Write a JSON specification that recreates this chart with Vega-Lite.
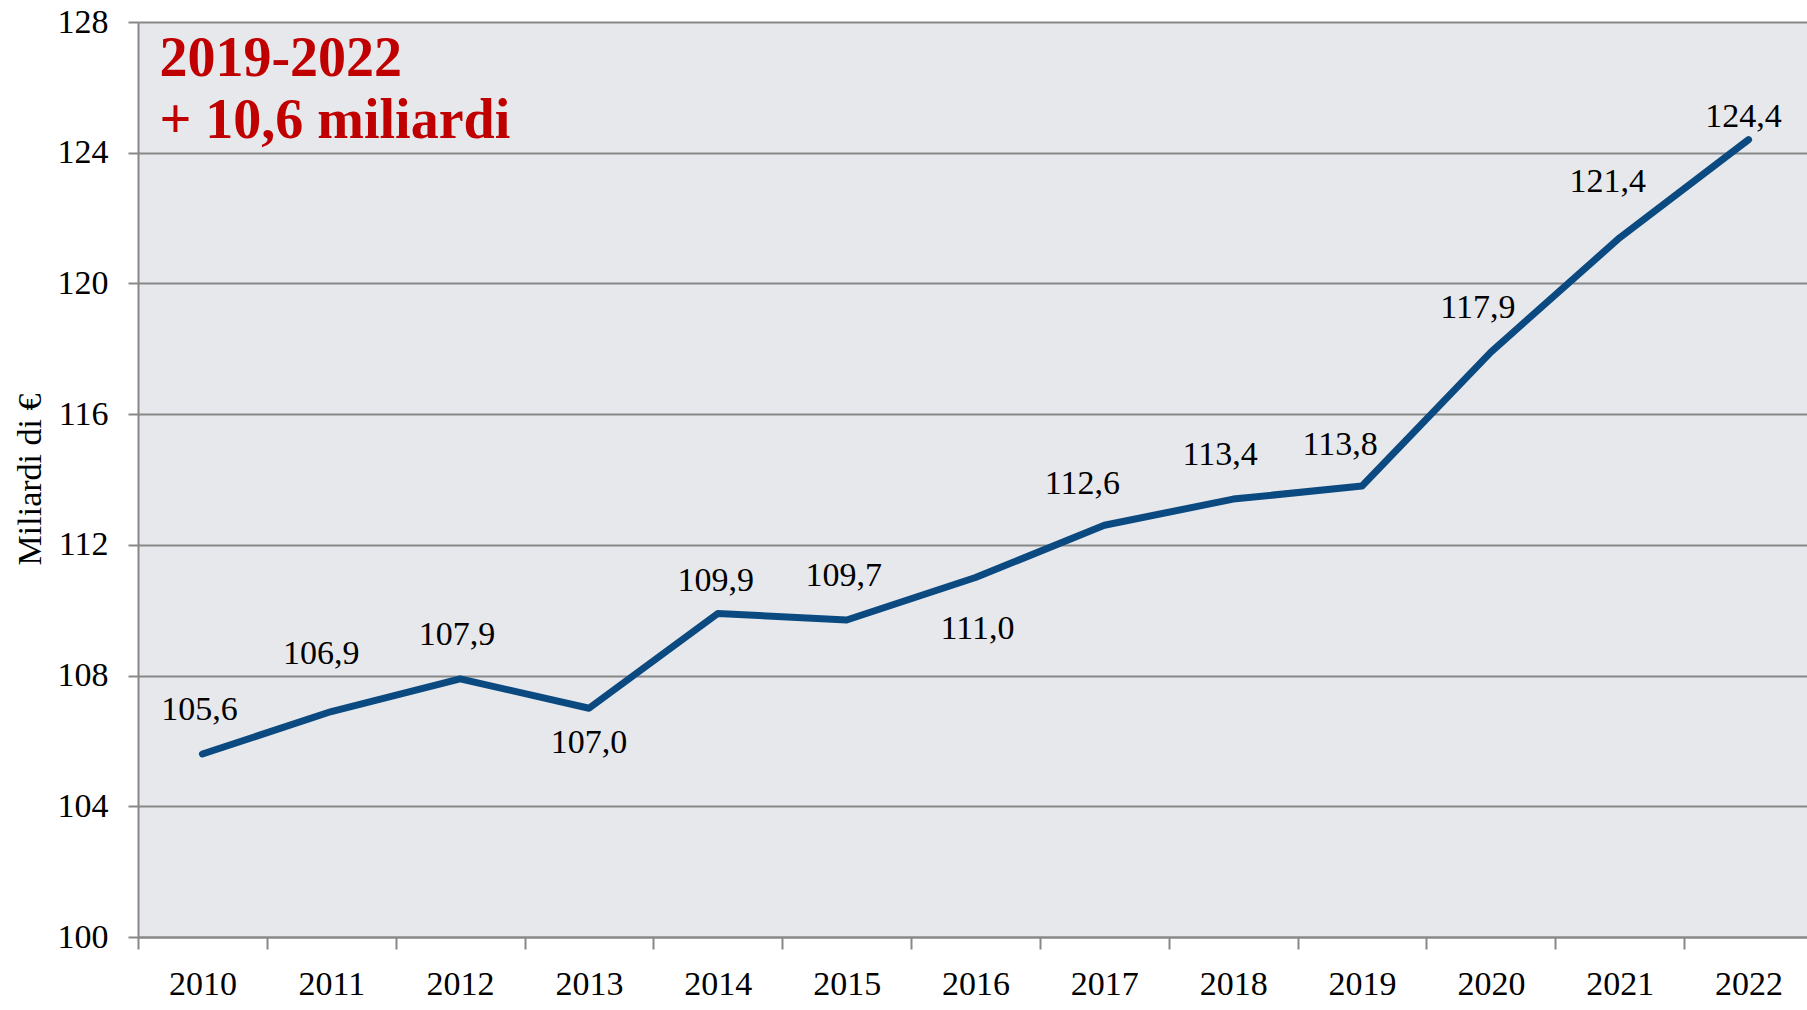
{
  "$schema": "https://vega.github.io/schema/vega-lite/v6.json",
  "width": 1675,
  "height": 915,
  "autosize": "none",
  "padding": {"left": 138, "top": 22, "right": 0, "bottom": 73},
  "background": "white",
  "config": {
    "view": {"fill": "#E7E8EC", "stroke": null},
    "font": "Liberation Serif",
    "text": {"font": "Liberation Serif", "fontSize": 34, "color": "#000000", "baseline": "middle"}
  },
  "data": {
    "values": [
      {"anno": "2010", "valore": 105.6, "etichetta": "105,6"},
      {"anno": "2011", "valore": 106.9, "etichetta": "106,9"},
      {"anno": "2012", "valore": 107.9, "etichetta": "107,9"},
      {"anno": "2013", "valore": 107.0, "etichetta": "107,0"},
      {"anno": "2014", "valore": 109.9, "etichetta": "109,9"},
      {"anno": "2015", "valore": 109.7, "etichetta": "109,7"},
      {"anno": "2016", "valore": 111.0, "etichetta": "111,0"},
      {"anno": "2017", "valore": 112.6, "etichetta": "112,6"},
      {"anno": "2018", "valore": 113.4, "etichetta": "113,4"},
      {"anno": "2019", "valore": 113.8, "etichetta": "113,8"},
      {"anno": "2020", "valore": 117.9, "etichetta": "117,9"},
      {"anno": "2021", "valore": 121.4, "etichetta": "121,4"},
      {"anno": "2022", "valore": 124.4, "etichetta": "124,4"}
    ]
  },
  "encoding": {
    "x": {
      "field": "anno", "type": "ordinal",
      "scale": {"paddingInner": 0, "paddingOuter": 0},
      "axis": {
        "title": null, "labelAngle": 0, "tickBand": "extent",
        "labelFont": "Liberation Serif", "labelFontSize": 34, "labelColor": "#000000",
        "labelPadding": 18, "tickSize": 12, "tickColor": "#888888", "tickWidth": 2,
        "domainColor": "#888888", "domainWidth": 2, "grid": false
      }
    },
    "y": {
      "field": "valore", "type": "quantitative",
      "scale": {"domain": [100, 128], "nice": false, "zero": false},
      "axis": {
        "values": [100, 104, 108, 112, 116, 120, 124, 128],
        "title": "Miliardi di €", "titleFont": "Liberation Serif", "titleFontSize": 34,
        "titleFontWeight": "normal", "titleColor": "#000000",
        "titleX": -108, "titleY": 457, "titleAngle": -90, "titleBaseline": "middle", "titleAlign": "center",
        "labelFont": "Liberation Serif", "labelFontSize": 34, "labelColor": "#000000",
        "labelPadding": 20, "tickSize": 10, "tickColor": "#888888", "tickWidth": 2,
        "domainColor": "#888888", "domainWidth": 2,
        "grid": true, "gridColor": "#888888", "gridWidth": 2
      }
    }
  },
  "layer": [
    {
      "mark": {"type": "line", "color": "#0B4A80", "strokeWidth": 7, "strokeCap": "round", "strokeJoin": "round"}
    },
    {
      "transform": [{"filter": {"field": "anno", "oneOf": ["2010", "2012", "2015"]}}],
      "mark": {"type": "text", "dy": -44, "dx": -3},
      "encoding": {"text": {"field": "etichetta"}}
    },
    {
      "transform": [{"filter": {"field": "anno", "oneOf": ["2011"]}}],
      "mark": {"type": "text", "dy": -58, "dx": -10},
      "encoding": {"text": {"field": "etichetta"}}
    },
    {
      "transform": [{"filter": {"field": "anno", "oneOf": ["2014"]}}],
      "mark": {"type": "text", "dy": -32, "dx": -2},
      "encoding": {"text": {"field": "etichetta"}}
    },
    {
      "transform": [{"filter": {"field": "anno", "oneOf": ["2017", "2019"]}}],
      "mark": {"type": "text", "dy": -41, "dx": -22},
      "encoding": {"text": {"field": "etichetta"}}
    },
    {
      "transform": [{"filter": {"field": "anno", "oneOf": ["2018", "2020"]}}],
      "mark": {"type": "text", "dy": -44, "dx": -13},
      "encoding": {"text": {"field": "etichetta"}}
    },
    {
      "transform": [{"filter": {"field": "anno", "oneOf": ["2021"]}}],
      "mark": {"type": "text", "dy": -56, "dx": -12},
      "encoding": {"text": {"field": "etichetta"}}
    },
    {
      "transform": [{"filter": {"field": "anno", "oneOf": ["2022"]}}],
      "mark": {"type": "text", "dy": -23, "dx": -5},
      "encoding": {"text": {"field": "etichetta"}}
    },
    {
      "transform": [{"filter": {"field": "anno", "oneOf": ["2013"]}}],
      "mark": {"type": "text", "dy": 35},
      "encoding": {"text": {"field": "etichetta"}}
    },
    {
      "transform": [{"filter": {"field": "anno", "oneOf": ["2016"]}}],
      "mark": {"type": "text", "dy": 51, "dx": 2},
      "encoding": {"text": {"field": "etichetta"}}
    },
    {
      "data": {"values": [{"anno": "2010", "valore": 126.35, "testo": ["2019-2022", "+ 10,6 miliardi"]}]},
      "mark": {"type": "text", "fontSize": 56, "fontWeight": "bold", "color": "#C00000", "align": "left", "baseline": "alphabetic", "lineHeight": 62, "dx": -43},
      "encoding": {"text": {"field": "testo"}}
    }
  ]
}
